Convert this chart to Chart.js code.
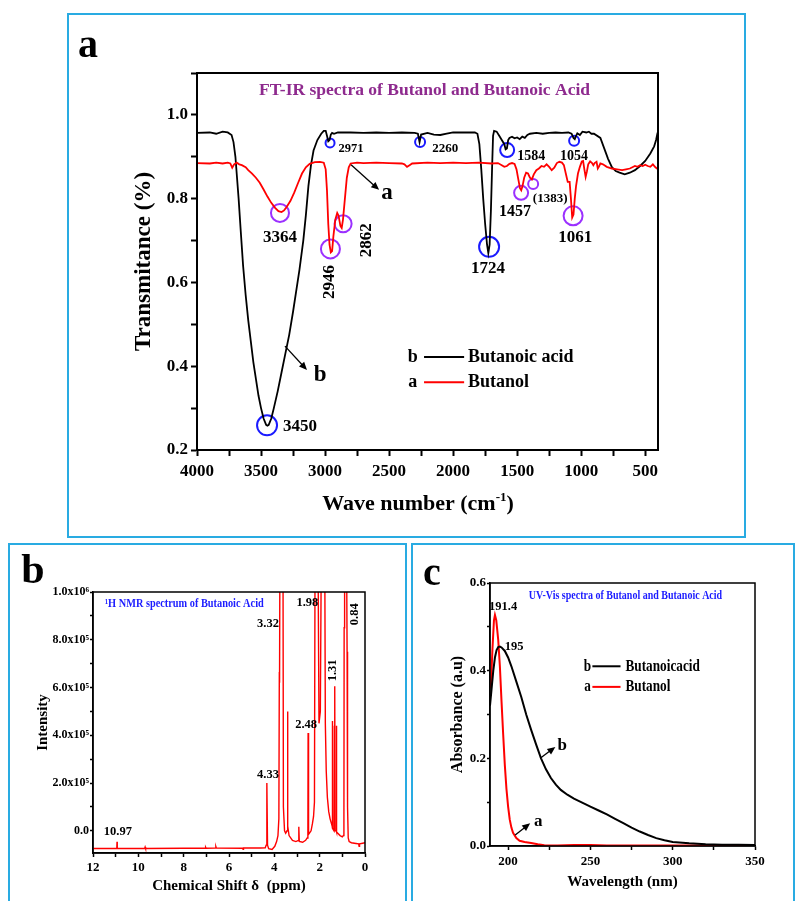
<!DOCTYPE html>
<html>
<head>
<meta charset="utf-8">
<script src="https://cdn.jsdelivr.net/npm/chart.js@4.4.1/dist/chart.umd.min.js"></script>
<style>
  html, body { margin: 0; padding: 0; background: #fff; }
  body { width: 796px; height: 901px; position: relative; overflow: hidden; }
  .frame { position: absolute; border: 2px solid #29abe2; box-sizing: border-box; }
  canvas { position: absolute; }
</style>
</head>
<body>
<div class="frame" style="left:67px;top:13px;width:679px;height:525px"></div>
<div class="frame" style="left:8px;top:543px;width:399px;height:380px"></div>
<div class="frame" style="left:411px;top:543px;width:384px;height:380px"></div>
<canvas id="ir" width="674" height="520" style="left:69px;top:15px"></canvas>
<canvas id="nmr" width="394" height="356" style="left:10px;top:545px"></canvas>
<canvas id="uv" width="380" height="356" style="left:414px;top:545px"></canvas>
<script>
  var SERIF = "'Liberation Serif', 'Times New Roman', serif";

  // ---- panel a : FT-IR ----
  var acidWave = [4000, 3900, 3850, 3800, 3760, 3730, 3715, 3700, 3690, 3675, 3660, 3640, 3620, 3600, 3580, 3560, 3540, 3520, 3500, 3480, 3460, 3450, 3440, 3420, 3400, 3370, 3340, 3310, 3280, 3250, 3220, 3200, 3170, 3150, 3130, 3110, 3090, 3060, 3030, 3010, 2995, 2985, 2975, 2965, 2955, 2945, 2930, 2900, 2800, 2700, 2600, 2500, 2400, 2300, 2275, 2262, 2250, 2200, 2150, 2100, 2050, 2000, 1900, 1830, 1810, 1795, 1780, 1765, 1750, 1735, 1725, 1715, 1705, 1695, 1688, 1680, 1660, 1640, 1620, 1600, 1590, 1580, 1570, 1560, 1540, 1520, 1500, 1480, 1460, 1440, 1420, 1400, 1350, 1300, 1250, 1200, 1150, 1100, 1075, 1060, 1050, 1040, 1030, 1010, 990, 960, 940, 920, 900, 850, 820, 790, 760, 730, 700, 660, 620, 580, 540, 500, 460, 430, 415, 405, 400];
  var acidT = [0.957, 0.958, 0.955, 0.96, 0.958, 0.952, 0.935, 0.90, 0.86, 0.80, 0.73, 0.64, 0.57, 0.51, 0.46, 0.41, 0.37, 0.33, 0.30, 0.275, 0.26, 0.258, 0.26, 0.275, 0.30, 0.34, 0.385, 0.43, 0.475, 0.53, 0.59, 0.63, 0.70, 0.76, 0.83, 0.88, 0.915, 0.94, 0.955, 0.962, 0.962, 0.95, 0.937, 0.94, 0.953, 0.957, 0.955, 0.958, 0.958, 0.957, 0.958, 0.957, 0.958, 0.957, 0.955, 0.935, 0.953, 0.957, 0.953, 0.952, 0.955, 0.958, 0.958, 0.958, 0.955, 0.93, 0.87, 0.80, 0.74, 0.69, 0.67, 0.69, 0.77, 0.88, 0.95, 0.962, 0.96, 0.95, 0.94, 0.93, 0.918, 0.92, 0.94, 0.945, 0.948, 0.944, 0.946, 0.942, 0.948, 0.945, 0.952, 0.955, 0.957, 0.955, 0.957, 0.958, 0.957, 0.958, 0.955, 0.945, 0.942, 0.95, 0.956, 0.952, 0.96, 0.958, 0.96, 0.955, 0.955, 0.945, 0.92, 0.895, 0.875, 0.866, 0.862, 0.858, 0.862, 0.868, 0.878, 0.89, 0.908, 0.925, 0.94, 0.955, 0.96];
  var alcoholWave = [4000, 3900, 3850, 3800, 3760, 3740, 3725, 3710, 3690, 3670, 3650, 3620, 3600, 3570, 3540, 3510, 3480, 3450, 3420, 3390, 3364, 3340, 3320, 3300, 3270, 3240, 3210, 3180, 3150, 3120, 3080, 3040, 3010, 2995, 2985, 2975, 2965, 2955, 2945, 2935, 2920, 2905, 2895, 2880, 2870, 2860, 2845, 2830, 2815, 2800, 2750, 2700, 2600, 2500, 2400, 2380, 2360, 2340, 2320, 2200, 2100, 2000, 1900, 1800, 1700, 1650, 1620, 1600, 1580, 1560, 1540, 1520, 1505, 1490, 1478, 1468, 1458, 1445, 1430, 1415, 1400, 1385, 1370, 1350, 1330, 1310, 1290, 1270, 1250, 1230, 1210, 1190, 1170, 1150, 1135, 1120, 1105, 1090, 1080, 1070, 1060, 1050, 1040, 1025, 1010, 995, 985, 975, 965, 955, 945, 930, 915, 905, 895, 880, 870, 860, 850, 830, 800, 760, 720, 680, 650, 620, 600, 580, 560, 540, 520, 500, 480, 460, 440, 420, 400];
  var alcoholT = [0.885, 0.884, 0.886, 0.884, 0.886, 0.884, 0.874, 0.882, 0.886, 0.882, 0.880, 0.875, 0.868, 0.86, 0.85, 0.838, 0.822, 0.805, 0.79, 0.778, 0.77, 0.768, 0.772, 0.78, 0.795, 0.815, 0.838, 0.86, 0.875, 0.883, 0.887, 0.888, 0.886, 0.87, 0.82, 0.74, 0.69, 0.672, 0.675, 0.71, 0.75, 0.766, 0.76, 0.735, 0.73, 0.75, 0.80, 0.85, 0.875, 0.884, 0.886, 0.885, 0.886, 0.885, 0.884, 0.882, 0.876, 0.88, 0.884, 0.886, 0.885, 0.886, 0.885, 0.886, 0.884, 0.885, 0.88, 0.876, 0.878, 0.883, 0.885, 0.883, 0.87, 0.845, 0.825, 0.82, 0.83, 0.85, 0.862, 0.86, 0.85, 0.846, 0.858, 0.868, 0.872, 0.878, 0.876, 0.882, 0.876, 0.868, 0.874, 0.885, 0.888, 0.886, 0.88, 0.86, 0.84, 0.84, 0.80, 0.755, 0.762, 0.80, 0.83, 0.86, 0.876, 0.889, 0.89, 0.87, 0.852, 0.865, 0.882, 0.889, 0.885, 0.88, 0.885, 0.888, 0.872, 0.877, 0.884, 0.882, 0.876, 0.872, 0.87, 0.868, 0.87, 0.872, 0.875, 0.878, 0.876, 0.88, 0.878, 0.881, 0.878, 0.876, 0.882, 0.875, 0.87];
  var irBlueWave = [3453, 2961, 2258, 1719, 1578, 1055];
  var irBlueT = [0.259, 0.933, 0.935, 0.685, 0.916, 0.938];
  var irPurpleWave = [3352, 2958, 2859, 1469, 1375, 1063];
  var irPurpleT = [0.766, 0.68, 0.74, 0.814, 0.835, 0.759];
  var irXMajor = [4000, 3500, 3000, 2500, 2000, 1500, 1000, 500];
  var irXMinor = [3750, 3250, 2750, 2250, 1750, 1250, 750];
  var irYMajor = [0.2, 0.4, 0.6, 0.8, 1.0];
  var irYMinor = [0.3, 0.5, 0.7, 0.9, 1.1];
  var irYLabels = ['0.2', '0.4', '0.6', '0.8', '1.0'];

  // ---- panel b : 1H NMR ----
  var nmrShift = [12.0, 11.5, 11.0, 10.95, 10.94, 10.93, 10.5, 9.72, 9.70, 9.68, 8.0, 7.05, 7.03, 7.01, 6.6, 6.58, 6.56, 5.4, 5.38, 5.36, 4.6, 4.4, 4.36, 4.33, 4.30, 4.25, 4.1, 3.98, 3.9, 3.84, 3.80, 3.78, 3.77, 3.75, 3.62, 3.60, 3.55, 3.50, 3.44, 3.42, 3.40, 3.35, 3.2, 3.05, 2.94, 2.92, 2.90, 2.75, 2.62, 2.55, 2.52, 2.51, 2.49, 2.45, 2.38, 2.32, 2.27, 2.23, 2.20, 2.08, 2.03, 1.97, 1.92, 1.78, 1.75, 1.71, 1.66, 1.6, 1.54, 1.48, 1.45, 1.44, 1.43, 1.37, 1.35, 1.34, 1.33, 1.32, 1.27, 1.26, 1.25, 1.2, 1.1, 1.0, 0.95, 0.93, 0.92, 0.90, 0.82, 0.79, 0.77, 0.74, 0.7, 0.6, 0.4, 0.28, 0.26, 0.24, 0.1, 0.0];
  var nmrIntensity = [-74000, -74000, -74000, -74000, -46000, -74000, -74000, -74000, -68000, -74000, -73000, -73000, -69000, -73000, -72000, -66000, -72000, -73000, -77000, -72000, -72000, -71000, -60000, 200000, -60000, -75000, -78000, -65000, -45000, -20000, 50000, 665000, 620000, 1300000, 1300000, 100000, 0, -10000, 0, 500000, 20000, -20000, -40000, -45000, -40000, 17000, -45000, -48000, -40000, -30000, -20000, 410000, -15000, -10000, 0, 30000, 60000, 120000, 1300000, 1300000, 450000, 500000, 1300000, 1300000, 450000, 250000, 140000, 80000, 50000, 30000, 20000, 460000, 10000, 0, 440000, 0, 605000, 0, 0, 440000, -5000, -10000, -20000, -25000, -20000, 50000, 850000, 1300000, 1300000, 750000, 100000, -30000, -45000, -50000, -53000, -55000, -65000, -55000, -52000, -50000];
  var nmrXMajor = [0, 2, 4, 6, 8, 10, 12];
  var nmrXMinor = [1, 3, 5, 7, 9, 11];
  var nmrYMajor = [0, 200000, 400000, 600000, 800000, 1000000];
  var nmrYMinor = [100000, 300000, 500000, 700000, 900000];
  var nmrYLabels = ['0.0', '2.0x10\u2075', '4.0x10\u2075', '6.0x10\u2075', '8.0x10\u2075', '1.0x10\u2076'];

  // ---- panel c : UV-Vis ----
  var acidNm = [189, 190, 191, 192, 193, 194, 195, 196, 198, 200, 202, 205, 208, 211, 214, 217, 220, 223, 226, 229, 232, 236, 240, 245, 250, 255, 260, 265, 270, 275, 280, 285, 290, 295, 300, 310, 320, 330, 340, 350];
  var acidAbs = [0.32, 0.36, 0.40, 0.43, 0.447, 0.454, 0.455, 0.453, 0.445, 0.43, 0.41, 0.375, 0.34, 0.30, 0.265, 0.232, 0.2, 0.175, 0.155, 0.14, 0.128, 0.117, 0.108, 0.099, 0.09, 0.081, 0.072, 0.062, 0.052, 0.042, 0.033, 0.025, 0.018, 0.013, 0.009, 0.006, 0.004, 0.003, 0.003, 0.002];
  var alcoholNm = [189.5, 190.5, 191.4, 192, 192.8, 194, 195, 196, 197, 198, 199, 200, 201, 202, 203, 205, 207, 210, 214, 218, 222, 230, 240, 250, 260, 280, 300, 320, 350];
  var alcoholAbs = [0.36, 0.45, 0.515, 0.527, 0.515, 0.47, 0.41, 0.33, 0.255, 0.185, 0.13, 0.09, 0.06, 0.042, 0.03, 0.018, 0.012, 0.009, 0.007, 0.004, 0.0015, 0.001, 0.002, 0.002, 0.001, 0.001, 0.001, 0.001, 0.001];
  var uvXMajor = [200, 250, 300, 350];
  var uvXMinor = [225, 275, 325];
  var uvYMajor = [0, 0.2, 0.4, 0.6];
  var uvYMinor = [0.1, 0.3, 0.5];
  var uvYLabels = ['0.0', '0.2', '0.4', '0.6'];

  function pairs(xs, ys) {
    return xs.map(function(x, i) { return { x: x, y: ys[i] }; });
  }

  function font(size, weight) {
    return (weight || 'bold') + ' ' + size + 'px ' + SERIF;
  }

  function axis(o) {
    return {
      type: 'linear', min: o.min, max: o.max, reverse: !!o.reverse,
      afterBuildTicks: function(s) {
        s.ticks = o.major.concat(o.minor).sort(function(a, b) { return a - b; })
          .map(function(v) { return { value: v }; });
      },
      afterFit: function(s) {
        if (o.width) s.width = o.width;
        if (o.height) s.height = o.height;
      },
      ticks: {
        autoSkip: false, maxRotation: 0, color: '#000', padding: o.pad,
        font: { family: SERIF, size: o.size, weight: 'bold' },
        callback: function(v) {
          for (var i = 0; i < o.major.length; i++) {
            if (Math.abs(o.major[i] - v) < 1e-9) return o.labels[i];
          }
          return '';
        }
      },
      grid: { drawOnChartArea: false, drawTicks: true, tickLength: o.tick, tickColor: '#000', tickWidth: o.lw },
      border: { display: true, color: '#000', width: o.lw },
      title: o.title ? {
        display: true, text: o.title, color: '#000', padding: { top: 4, bottom: 4 },
        font: { family: SERIF, size: o.titleSize, weight: 'bold' }
      } : { display: false }
    };
  }

  function line(data, color, width) {
    return { data: data, showLine: true, borderColor: color, borderWidth: width, pointRadius: 0, tension: 0, fill: false };
  }

  function marks(data, color, radii) {
    return { data: data, showLine: false, pointStyle: 'circle', pointRadius: radii, pointBorderWidth: 2,
      pointBorderColor: color, pointBackgroundColor: 'rgba(0,0,0,0)' };
  }

  function text(ctx, x, y, s, size, opt) {
    opt = opt || {};
    ctx.save();
    ctx.translate(x, y);
    if (opt.rot) ctx.rotate(opt.rot * Math.PI / 180);
    if (opt.sx) ctx.scale(opt.sx, 1);
    ctx.font = font(size, opt.weight);
    ctx.fillStyle = opt.color || '#000';
    ctx.textAlign = opt.align || 'center';
    ctx.textBaseline = opt.base || 'middle';
    ctx.fillText(s, 0, 0);
    ctx.restore();
  }

  function arrow(ctx, x1, y1, x2, y2) {
    var a = Math.atan2(y2 - y1, x2 - x1), h = 8;
    ctx.save();
    ctx.strokeStyle = '#000'; ctx.fillStyle = '#000'; ctx.lineWidth = 1.3;
    ctx.beginPath(); ctx.moveTo(x1, y1); ctx.lineTo(x2 - Math.cos(a) * h * 0.6, y2 - Math.sin(a) * h * 0.6); ctx.stroke();
    ctx.beginPath();
    ctx.moveTo(x2, y2);
    ctx.lineTo(x2 - h * Math.cos(a) + 3.5 * Math.sin(a), y2 - h * Math.sin(a) - 3.5 * Math.cos(a));
    ctx.lineTo(x2 - h * Math.cos(a) - 3.5 * Math.sin(a), y2 - h * Math.sin(a) + 3.5 * Math.cos(a));
    ctx.closePath(); ctx.fill();
    ctx.restore();
  }

  // draws frame, labels, arrows and key rows given in data coordinates
  function notesPlugin(cfg) {
    return {
      id: 'notes',
      afterDraw: function(chart) {
        var ctx = chart.ctx, xs = chart.scales.x, ys = chart.scales.y, ca = chart.chartArea;
        ctx.save();
        ctx.strokeStyle = '#000'; ctx.lineWidth = cfg.frame;
        ctx.strokeRect(ca.left, ca.top, ca.right - ca.left, ca.bottom - ca.top);
        ctx.restore();
        (cfg.notes || []).forEach(function(n) {
          text(ctx, xs.getPixelForValue(n.x), ys.getPixelForValue(n.y), n.t, n.size, n);
        });
        (cfg.arrows || []).forEach(function(a) {
          arrow(ctx, xs.getPixelForValue(a[0]), ys.getPixelForValue(a[1]), xs.getPixelForValue(a[2]), ys.getPixelForValue(a[3]));
        });
        (cfg.keys || []).forEach(function(k) {
          var y = ys.getPixelForValue(k.y);
          text(ctx, xs.getPixelForValue(k.keyX), y, k.key, k.size, { sx: k.sx });
          ctx.save();
          ctx.strokeStyle = k.color; ctx.lineWidth = 2;
          ctx.beginPath(); ctx.moveTo(xs.getPixelForValue(k.x1), y); ctx.lineTo(xs.getPixelForValue(k.x2), y); ctx.stroke();
          ctx.restore();
          text(ctx, xs.getPixelForValue(k.labelX), y, k.label, k.size, { align: 'left', sx: k.sx });
        });
        if (cfg.letter) text(ctx, cfg.letter.px, cfg.letter.py, cfg.letter.t, cfg.letter.size, { base: 'alphabetic' });
        if (cfg.extra) cfg.extra(ctx, chart);
      }
    };
  }

  function baseOptions(pad) {
    return {
      responsive: false, animation: false, devicePixelRatio: 1, events: [],
      layout: { padding: pad },
      plugins: { legend: { display: false }, tooltip: { enabled: false } }
    };
  }

  // ---------- panel a ----------
  var irOpts = baseOptions({ left: 57, top: 58, right: 85, bottom: 15 });
  irOpts.scales = {
    x: axis({ min: 400, max: 4000, reverse: true, major: irXMajor, minor: irXMinor, labels: irXMajor.map(String),
      size: 17, pad: 5, tick: 6, lw: 2, height: 70 }),
    y: axis({ min: 0.2, max: 1.1, major: irYMajor, minor: irYMinor, labels: irYLabels,
      size: 17, pad: 3, tick: 6, lw: 2, width: 71, title: 'Transmitance (%)', titleSize: 23 })
  };
  new Chart(document.getElementById('ir'), {
    type: 'scatter',
    data: { datasets: [
      line(pairs(alcoholWave, alcoholT), '#ff0000', 1.8),
      line(pairs(acidWave, acidT), '#000000', 1.8),
      marks(pairs(irBlueWave, irBlueT), '#1a1aff', [10, 4.5, 5, 10, 7, 5]),
      marks(pairs(irPurpleWave, irPurpleT), '#9b30ff', [9, 9.5, 8.5, 7, 5, 9.5])
    ] },
    options: irOpts,
    plugins: [notesPlugin({
      frame: 2,
      notes: [
        { t: 'FT-IR spectra of Butanol and Butanoic Acid', x: 2223, y: 1.058, size: 17.5, color: '#8e2a8e' },
        { t: '3450', x: 3195, y: 0.257, size: 17 },
        { t: '3364', x: 3352, y: 0.708, size: 17 },
        { t: '2946', x: 2961, y: 0.601, size: 17, rot: -90 },
        { t: '2862', x: 2672, y: 0.701, size: 17, rot: -90 },
        { t: '2971', x: 2797, y: 0.919, size: 12.5 },
        { t: '2260', x: 2062, y: 0.919, size: 13 },
        { t: '1724', x: 1727, y: 0.634, size: 17 },
        { t: '1584', x: 1390, y: 0.902, size: 14 },
        { t: '1054', x: 1055, y: 0.902, size: 14 },
        { t: '1457', x: 1516, y: 0.768, size: 16 },
        { t: '(1383)', x: 1242, y: 0.80, size: 13 },
        { t: '1061', x: 1047, y: 0.708, size: 17 },
        { t: 'a', x: 2516, y: 0.814, size: 23 },
        { t: 'b', x: 3039, y: 0.379, size: 23 }
      ],
      arrows: [[2797, 0.881, 2578, 0.821], [3313, 0.448, 3141, 0.391]],
      keys: [
        { key: 'b', keyX: 2316, x1: 2227, x2: 1914, labelX: 1883, y: 0.422, label: 'Butanoic acid', color: '#000', size: 18 },
        { key: 'a', keyX: 2316, x1: 2227, x2: 1914, labelX: 1883, y: 0.362, label: 'Butanol', color: '#ff0000', size: 18 }
      ],
      letter: { t: 'a', px: 19, py: 42, size: 40 },
      extra: function(ctx) {
        var cx = 349, base = 495, main = 'Wave number (cm', sup = '-1', end = ')';
        ctx.save();
        ctx.font = font(22); var w1 = ctx.measureText(main).width, w3 = ctx.measureText(end).width;
        ctx.font = font(13); var w2 = ctx.measureText(sup).width;
        var x0 = cx - (w1 + w2 + w3) / 2;
        ctx.fillStyle = '#000'; ctx.textAlign = 'left'; ctx.textBaseline = 'alphabetic';
        ctx.font = font(22); ctx.fillText(main, x0, base); ctx.fillText(end, x0 + w1 + w2, base);
        ctx.font = font(13); ctx.fillText(sup, x0 + w1, base - 9);
        ctx.restore();
      }
    })]
  });

  // ---------- panel b ----------
  var nmrOpts = baseOptions({ left: 20, top: 47, right: 39, bottom: 2 });
  nmrOpts.scales = {
    x: axis({ min: 0, max: 12, reverse: true, major: nmrXMajor, minor: nmrXMinor, labels: nmrXMajor.map(String),
      size: 13, pad: 3, tick: 4, lw: 1.5, height: 46, title: 'Chemical Shift \u03b4  (ppm)', titleSize: 15 }),
    y: axis({ min: -93000, max: 1000000, major: nmrYMajor, minor: nmrYMinor, labels: nmrYLabels,
      size: 12, pad: 1, tick: 3, lw: 1.5, width: 63, title: 'Intensity', titleSize: 15 })
  };
  new Chart(document.getElementById('nmr'), {
    type: 'scatter',
    data: { datasets: [line(pairs(nmrShift, nmrIntensity), '#ff0000', 1.4)] },
    options: nmrOpts,
    plugins: [notesPlugin({
      frame: 1.5,
      notes: [
        { t: '\u00b9H NMR spectrum of Butanoic Acid', x: 11.47, y: 952000, size: 12, color: '#1c1cff', align: 'left', sx: 0.86 },
        { t: '10.97', x: 10.9, y: -5000, size: 12.5 },
        { t: '4.33', x: 4.28, y: 233000, size: 12.5 },
        { t: '3.32', x: 4.28, y: 869000, size: 12.5 },
        { t: '1.98', x: 2.54, y: 953000, size: 12.5 },
        { t: '2.48', x: 2.6, y: 443000, size: 12.5 },
        { t: '1.31', x: 1.41, y: 672000, size: 12.5, rot: -90 },
        { t: '0.84', x: 0.44, y: 907000, size: 12.5, rot: -90 }
      ],
      letter: { t: 'b', px: 23, py: 38, size: 42 }
    })]
  });

  // ---------- panel c ----------
  var uvOpts = baseOptions({ left: 30, top: 38, right: 39, bottom: 6 });
  uvOpts.scales = {
    x: axis({ min: 189, max: 350, major: uvXMajor, minor: uvXMinor, labels: uvXMajor.map(String),
      size: 13, pad: 4, tick: 4, lw: 1.5, height: 49, title: 'Wavelength (nm)', titleSize: 15 }),
    y: axis({ min: 0, max: 0.6, major: uvYMajor, minor: uvYMinor, labels: uvYLabels,
      size: 13, pad: 1, tick: 3, lw: 1.5, width: 46, title: 'Absorbance (a.u)', titleSize: 16 })
  };
  new Chart(document.getElementById('uv'), {
    type: 'scatter',
    data: { datasets: [
      line(pairs(acidNm, acidAbs), '#000000', 2),
      line(pairs(alcoholNm, alcoholAbs), '#ff0000', 2)
    ] },
    options: uvOpts,
    plugins: [notesPlugin({
      frame: 1.5,
      notes: [
        { t: 'UV-Vis spectra of Butanol and Butanoic Acid', x: 271.3, y: 0.572, size: 12.5, color: '#1c1cff', sx: 0.8 },
        { t: '191.4', x: 197, y: 0.545, size: 12.5 },
        { t: '195', x: 203.7, y: 0.454, size: 12.5 },
        { t: 'b', x: 232.9, y: 0.23, size: 17 },
        { t: 'a', x: 218.3, y: 0.055, size: 17 }
      ],
      arrows: [[219.5, 0.2, 228.7, 0.226], [204.3, 0.025, 213.4, 0.052]],
      keys: [
        { key: 'b', keyX: 248.2, x1: 251.2, x2: 268.3, labelX: 271.3, y: 0.41, label: 'Butanoicacid', color: '#000', size: 17, sx: 0.78 },
        { key: 'a', keyX: 248.2, x1: 251.2, x2: 268.3, labelX: 271.3, y: 0.363, label: 'Butanol', color: '#ff0000', size: 17, sx: 0.78 }
      ],
      letter: { t: 'c', px: 18, py: 40, size: 40 }
    })]
  });
</script>
</body>
</html>
